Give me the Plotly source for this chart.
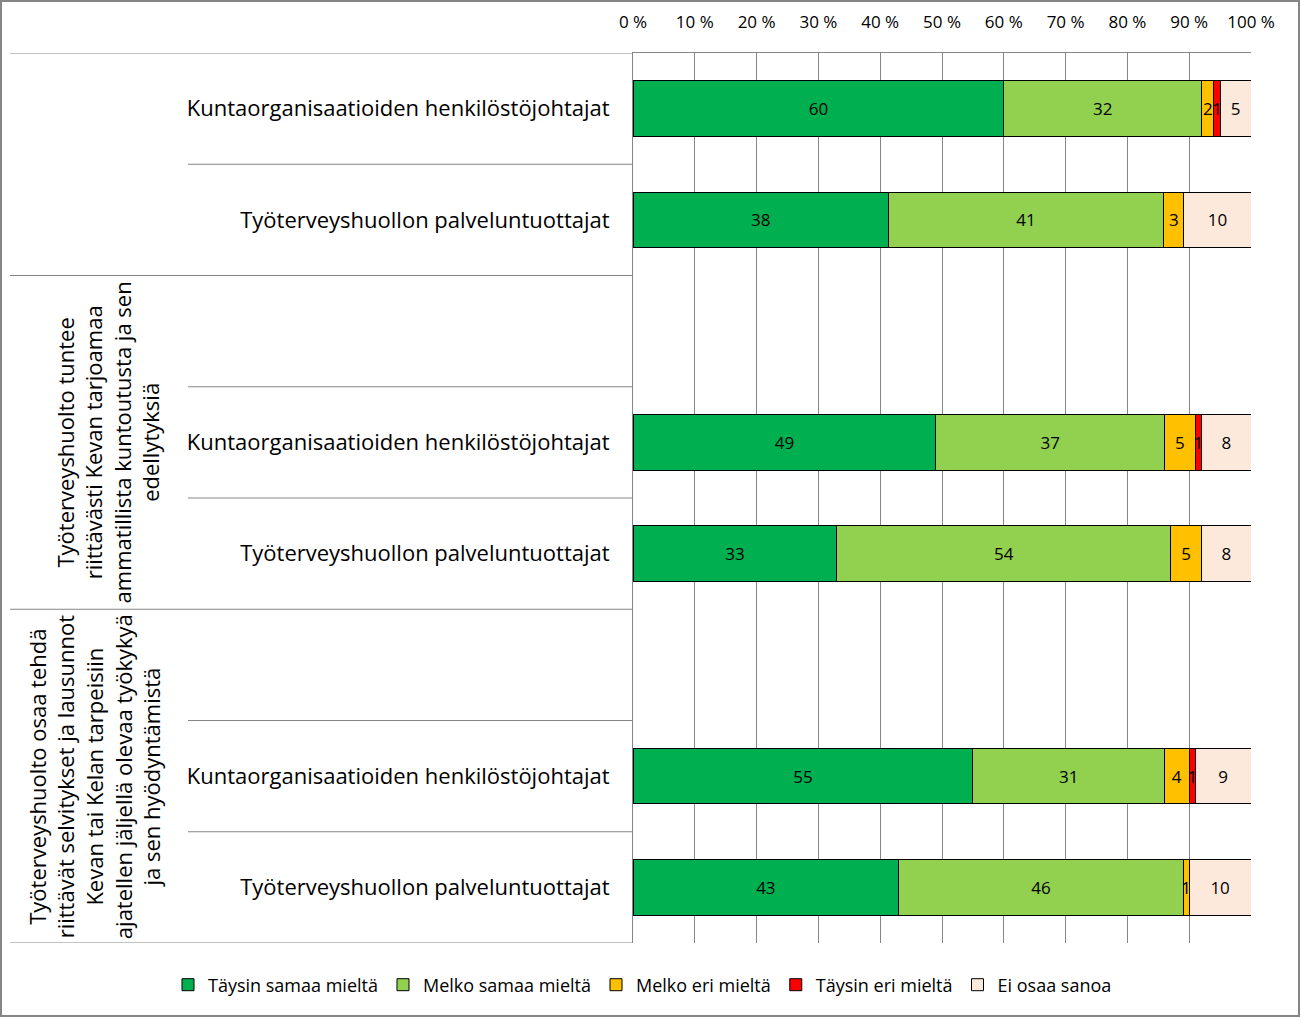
import plotly.graph_objects as go

# ---- data ----
row_labels = [
    "Kuntaorganisaatioiden henkilöstöjohtajat",
    "Työterveyshuollon palveluntuottajat",
    "",
    "Kuntaorganisaatioiden henkilöstöjohtajat",
    "Työterveyshuollon palveluntuottajat",
    "",
    "Kuntaorganisaatioiden henkilöstöjohtajat",
    "Työterveyshuollon palveluntuottajat",
]
group_labels = [
    "",
    "Työterveyshuolto tuntee<br>riittävästi Kevan tarjoamaa<br>ammatillista kuntoutusta ja sen<br>edellytyksiä",
    "Työterveyshuolto osaa tehdä<br>riittävät selvitykset ja lausunnot<br>Kevan tai Kelan tarpeisiin<br>ajatellen jäljellä olevaa työkykyä<br>ja sen hyödyntämistä",
]
group_rows = [0.5, 3, 6]

series_names = ["Täysin samaa mieltä", "Melko samaa mieltä", "Melko eri mieltä",
                "Täysin eri mieltä", "Ei osaa sanoa"]
taysin_samaa = [60, 38, None, 49, 33, None, 55, 43]
melko_samaa = [32, 41, None, 37, 54, None, 31, 46]
melko_eri = [2, 3, None, 5, 5, None, 4, 1]
taysin_eri = [1, 0, None, 1, 0, None, 1, 0]
ei_osaa = [5, 10, None, 8, 8, None, 9, 10]
series_values = [taysin_samaa, melko_samaa, melko_eri, taysin_eri, ei_osaa]
series_colors = ["#00B050", "#92D050", "#FFC000", "#FF0000", "#FDE9DB"]

tick_vals = [0, 10, 20, 30, 40, 50, 60, 70, 80, 90, 100]
tick_text = [f"{v} %" for v in tick_vals]

FONT = "Open Sans, Noto Sans, sans-serif"
GRID = "#868686"

# ---- geometry helpers (pixel layout of the reference) ----
W, H = 1301, 1018
L, R, T, B = 633, 50, 53, 75
pw = W - L - R
ph = H - T - B


def px_x(px):
    return (px - L) / pw


def px_y(py):
    return 1 - (py - T) / ph


ypos = list(range(len(row_labels)))

fig = go.Figure()
for name, vals, col in zip(series_names, series_values, series_colors):
    fig.add_trace(go.Bar(
        name=name,
        y=ypos,
        x=vals,
        orientation="h",
        marker=dict(color=col, line=dict(color="black", width=1)),
        text=["" if (v is None or v == 0) else str(v) for v in vals],
        textposition="inside",
        insidetextanchor="middle",
        textfont=dict(family=FONT, size=17, color="black"),
        constraintext="none",
        hoverinfo="skip",
    ))

fig.update_layout(
    barmode="stack",
    barnorm="percent",
    bargap=0.5,
    width=W,
    height=H,
    margin=dict(l=L, r=R, t=T, b=B, autoexpand=False),
    paper_bgcolor="white",
    plot_bgcolor="white",
    font=dict(family=FONT, size=16, color="black"),
    uniformtext=dict(minsize=17, mode="show"),
    legend=dict(
        orientation="h",
        x=px_x(168), xanchor="left",
        y=px_y(985), yanchor="middle",
        font=dict(family=FONT, size=18, color="black"),
        traceorder="normal",
        itemclick=False,
    ),
    xaxis=dict(
        side="top",
        range=[0, 100],
        tickmode="array",
        tickvals=tick_vals,
        ticktext=tick_text,
        showgrid=True,
        gridcolor=GRID,
        gridwidth=1,
        zeroline=False,
        showline=True,
        linecolor=GRID,
        linewidth=1,
        ticks="",
        ticklabelstandoff=17,
        tickfont=dict(family=FONT, size=17, color="black"),
    ),
    yaxis=dict(
        range=[7.5, -0.5],
        tickvals=ypos,
        ticktext=row_labels,
        showgrid=False,
        zeroline=False,
        showline=True,
        linecolor=GRID,
        linewidth=1,
        ticks="",
        ticklabelstandoff=18,
        tickfont=dict(family=FONT, size=22, color="black"),
    ),
)

# divider lines in the label area
long_x0 = px_x(10)
short_x0 = px_x(188)
for b in [-0.5, 0.5, 1.5, 2.5, 3.5, 4.5, 5.5, 6.5, 7.5]:
    x0 = long_x0 if b in (-0.5, 1.5, 4.5, 7.5) else short_x0
    fig.add_shape(type="line", xref="paper", yref="y", x0=x0, x1=0, y0=b, y1=b,
                  line=dict(color=GRID, width=1), layer="above")

# group labels (rotated)
for lab, r in zip(group_labels, group_rows):
    if not lab:
        continue
    fig.add_annotation(
        text=lab, xref="paper", yref="y", x=px_x(168), y=r,
        xanchor="right", yanchor="middle", textangle=-90, showarrow=False,
        align="center", font=dict(family=FONT, size=22, color="black"),
    )

# outer border
fig.add_shape(type="rect", xref="paper", yref="paper",
              x0=px_x(1), x1=px_x(W - 2), y0=px_y(H - 2), y1=px_y(1),
              line=dict(color=GRID, width=2), fillcolor="rgba(0,0,0,0)", layer="above")

fig.write_html(
    "out.html",
    config={"displayModeBar": False},
    post_script="document.body.style.margin='0';document.body.style.padding='0';",
)
